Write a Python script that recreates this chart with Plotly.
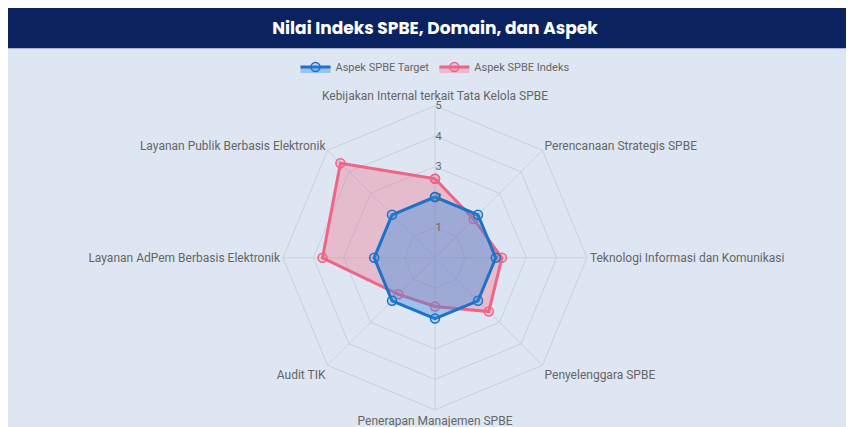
import plotly.graph_objects as go

aspek = ['Kebijakan Internal terkait Tata Kelola SPBE', 'Perencanaan Strategis SPBE',
         'Teknologi Informasi dan Komunikasi', 'Penyelenggara SPBE',
         'Penerapan Manajemen SPBE', 'Audit TIK',
         'Layanan AdPem Berbasis Elektronik', 'Layanan Publik Berbasis Elektronik']
target = [2, 2, 2, 2, 2, 2, 2, 2]
indeks = [2.6, 1.8, 2.2, 2.5, 1.6, 1.7, 3.7, 4.4]

def closed(v):
    return v + v[:1]

fig = go.Figure()
fig.add_trace(go.Scatterpolar(
    r=closed(indeks), theta=closed(aspek), name='Aspek SPBE Indeks',
    fill='toself', fillcolor='rgba(240,110,140,0.35)',
    line=dict(color='#ee6585', width=3),
    marker=dict(size=9, color='rgba(240,110,140,0.2)', line=dict(color='#ee6585', width=1.5)),
))
fig.add_trace(go.Scatterpolar(
    r=closed(target), theta=closed(aspek), name='Aspek SPBE Target',
    fill='toself', fillcolor='rgba(54,140,225,0.4)',
    line=dict(color='#1c72c9', width=3),
    marker=dict(size=9, color='rgba(54,140,225,0.2)', line=dict(color='#1c72c9', width=1.5)),
))

fig.update_layout(
    width=854, height=427,
    paper_bgcolor='#dde6f2',
    font=dict(family='Roboto', size=12, color='#666'),
    margin=dict(l=0, r=0, t=0, b=0),
    title=dict(text='<b>Nilai Indeks SPBE, Domain, dan Aspek</b>', x=0.5, y=0.953,
               xanchor='center', yanchor='middle',
               font=dict(family='Poppins, Inter', size=17, color='white')),
    legend=dict(orientation='h', x=0.5, xanchor='center', y=0.862, yanchor='middle',
                bgcolor='rgba(0,0,0,0)', font=dict(size=11), traceorder='reversed'),
    polar=dict(
        bgcolor='rgba(0,0,0,0)',
        gridshape='linear',
        domain=dict(x=[0, 1], y=[0.059, 0.771]),
        radialaxis=dict(range=[0, 5], tickvals=[1, 2, 3, 4, 5], angle=90, tickangle=90,
                        gridcolor='#c9d0da', showline=False,
                        tickfont=dict(size=11, color='#666')),
        angularaxis=dict(direction='clockwise', rotation=90, gridcolor='#c9d0da',
                         linecolor='#c9d0da', tickfont=dict(size=12, color='#666')),
    ),
    shapes=[dict(type='rect', xref='paper', yref='paper', x0=0, x1=1, y0=0.906, y1=1,
                 fillcolor='#0b2260', line_width=0, layer='below')],
)

fig.write_html('out.html')
